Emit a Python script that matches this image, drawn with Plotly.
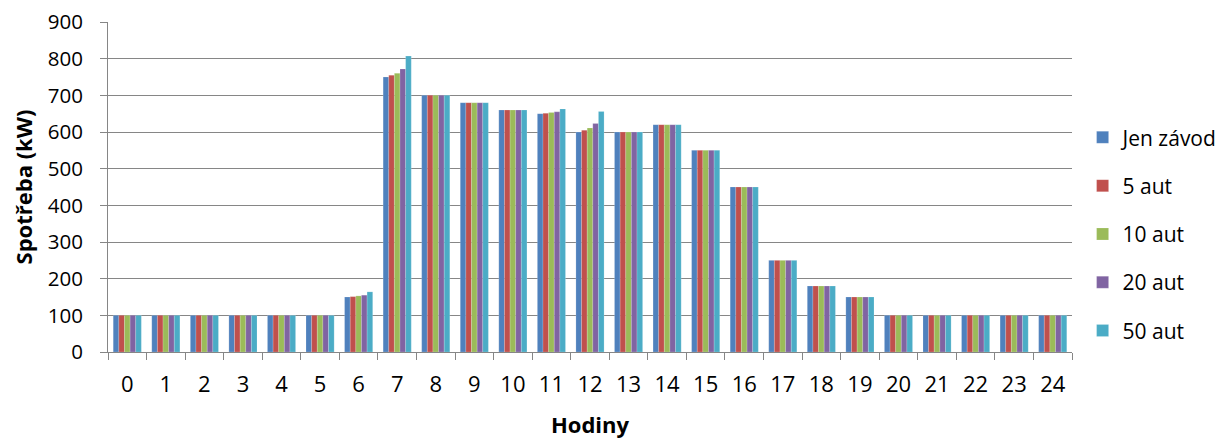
import plotly.graph_objects as go

hours = [str(h) for h in range(25)]
jen_zavod = [100, 100, 100, 100, 100, 100, 150, 750, 700, 680, 660, 650, 600, 600, 620, 550, 450, 250, 180, 150, 100, 100, 100, 100, 100]
aut_5 = [100, 100, 100, 100, 100, 100, 151, 755, 700, 680, 660, 651, 605, 600, 620, 550, 450, 250, 180, 150, 100, 100, 100, 100, 100]
aut_10 = [100, 100, 100, 100, 100, 100, 153, 760, 700, 680, 660, 653, 611, 600, 620, 550, 450, 250, 180, 150, 100, 100, 100, 100, 100]
aut_20 = [100, 100, 100, 100, 100, 100, 155, 772, 700, 680, 660, 655, 623, 600, 620, 550, 450, 250, 180, 150, 100, 100, 100, 100, 100]
aut_50 = [100, 100, 100, 100, 100, 100, 164, 807, 700, 680, 660, 663, 656, 600, 620, 550, 450, 250, 180, 150, 100, 100, 100, 100, 100]

series = [
    ("Jen závod", jen_zavod, "#4F81BD"),
    ("5 aut", aut_5, "#C0504D"),
    ("10 aut", aut_10, "#9BBB59"),
    ("20 aut", aut_20, "#8064A2"),
    ("50 aut", aut_50, "#4BACC6"),
]

fig = go.Figure()
for i, (name, vals, col) in enumerate(series):
    fig.add_trace(go.Bar(
        x=hours, y=vals, name=name, legendgroup=f"g{i}",
        marker=dict(color=col, line=dict(color="rgba(255,255,255,0.35)", width=0.5)),
    ))

font = "Open Sans, Liberation Sans, sans-serif"
fs = 22
fig.update_layout(
    width=1219, height=431,
    margin=dict(l=100, r=155, t=14, b=87, autoexpand=False),
    paper_bgcolor="white", plot_bgcolor="white",
    barmode="group", bargap=0.27, bargroupgap=0,
    font=dict(family=font, size=fs, color="#000"),
    legend=dict(x=1.011, xanchor="left", y=0.357, yanchor="middle",
                tracegroupgap=18, font=dict(size=21)),
    xaxis=dict(
        type="category", tickson="boundaries", ticks="outside", ticklen=7,
        tickcolor="#868686", showline=True, linecolor="#868686", linewidth=1,
        title=dict(text="<b>Hodiny</b>", font=dict(size=fs), standoff=24),
        tickfont=dict(size=fs), ticklabelstandoff=13, automargin=False,
        ticklabeloverflow="allow",
    ),
    yaxis=dict(
        range=[0, 900], dtick=100, ticks="outside", ticklen=7, tickcolor="#868686",
        showline=True, linecolor="#868686", linewidth=1,
        showgrid=True, gridcolor="#868686", gridwidth=1, zeroline=False,
        title=dict(text="<b>Spotřeba (kW)</b>", font=dict(size=fs), standoff=15),
        tickfont=dict(size=20.5), ticklabelstandoff=13, automargin=False,
        ticklabeloverflow="allow",
    ),
)

fig.write_html("out.html")
